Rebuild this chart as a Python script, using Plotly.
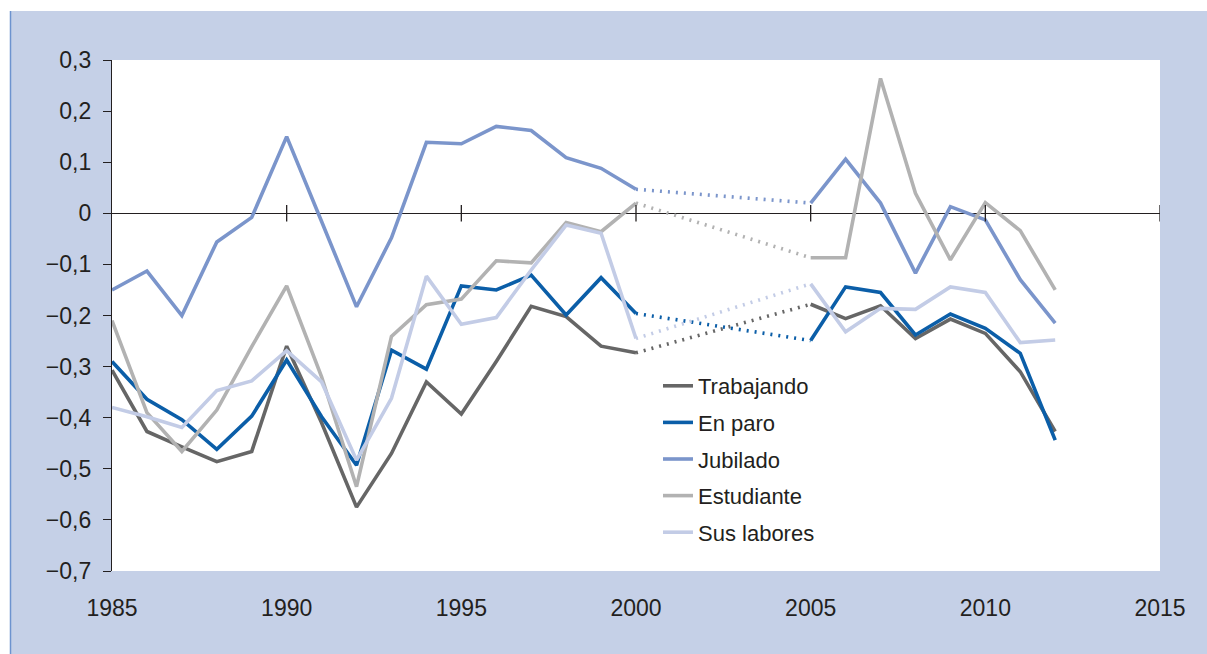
import plotly.graph_objects as go

years_a = list(range(1985, 2001))
years_b = list(range(2005, 2013))

series_names = ["Trabajando", "En paro", "Jubilado", "Estudiante", "Sus labores"]
colors = ["#666666", "#0b5ea8", "#7b95cb", "#b2b2b2", "#c3cce6"]

trabajando_a = [-0.307, -0.427, -0.457, -0.486, -0.466, -0.260, -0.410, -0.575, -0.470, -0.330,
                -0.393, -0.290, -0.182, -0.202, -0.260, -0.273]
trabajando_b = [-0.178, -0.206, -0.181, -0.245, -0.207, -0.235, -0.310, -0.427]

en_paro_a = [-0.290, -0.364, -0.404, -0.462, -0.397, -0.287, -0.398, -0.493, -0.268, -0.305,
             -0.142, -0.150, -0.121, -0.199, -0.126, -0.196]
en_paro_b = [-0.249, -0.144, -0.155, -0.238, -0.197, -0.225, -0.274, -0.444]

jubilado_a = [-0.150, -0.113, -0.200, -0.056, -0.008, 0.150, -0.016, -0.183, -0.048, 0.139,
              0.136, 0.170, 0.162, 0.109, 0.088, 0.047]
jubilado_b = [0.020, 0.106, 0.020, -0.117, 0.013, -0.013, -0.130, -0.215]

estudiante_a = [-0.210, -0.390, -0.466, -0.385, -0.261, -0.142, -0.320, -0.535, -0.241, -0.179,
                -0.168, -0.093, -0.097, -0.018, -0.036, 0.020]
estudiante_b = [-0.087, -0.087, 0.264, 0.039, -0.091, 0.021, -0.034, -0.150]

sus_labores_a = [-0.380, -0.398, -0.419, -0.347, -0.328, -0.269, -0.330, -0.483, -0.362, -0.123,
                 -0.217, -0.204, -0.111, -0.023, -0.039, -0.245]
sus_labores_b = [-0.138, -0.232, -0.186, -0.188, -0.144, -0.155, -0.253, -0.248]

y_tickvals = [0.3, 0.2, 0.1, 0.0, -0.1, -0.2, -0.3, -0.4, -0.5, -0.6, -0.7]
y_ticktext = ["0,3", "0,2", "0,1", "0", "−0,1", "−0,2", "−0,3", "−0,4", "−0,5", "−0,6", "−0,7"]
x_tickvals = [1985, 1990, 1995, 2000, 2005, 2010, 2015]
x_ticktext = ["1985", "1990", "1995", "2000", "2005", "2010", "2015"]

data_a = [trabajando_a, en_paro_a, jubilado_a, estudiante_a, sus_labores_a]
data_b = [trabajando_b, en_paro_b, jubilado_b, estudiante_b, sus_labores_b]

TEXT = "#231f20"
FONT = "Liberation Sans, Arial, sans-serif"
PANEL = "#c5d0e7"

fig = go.Figure()
for name, col, ya, yb in zip(series_names, colors, data_a, data_b):
    fig.add_trace(go.Scatter(x=years_a, y=ya, mode="lines", name=name, legendgroup=name,
                             line=dict(color=col, width=3.6), showlegend=True))
    fig.add_trace(go.Scatter(x=[years_a[-1], years_b[0]], y=[ya[-1], yb[0]], mode="lines",
                             name=name, legendgroup=name, showlegend=False,
                             line=dict(color=col, width=3.6, dash="2px,6px")))
    fig.add_trace(go.Scatter(x=years_b, y=yb, mode="lines", name=name, legendgroup=name,
                             line=dict(color=col, width=3.6), showlegend=False))

W, H = 1207, 654
L, R, T, B = 112, 47, 60, 83
pw, ph = W - L - R, H - T - B

def px2x(p):
    return (p - L) / pw

def px2y(p):
    return (H - B - p) / ph

shapes = [
    # white top strip and left strip outside the coloured panel
    dict(type="rect", xref="paper", yref="paper", x0=px2x(-2), x1=px2x(W + 2), y0=px2y(11), y1=px2y(-2),
         fillcolor="white", line=dict(width=0), layer="below"),
    dict(type="rect", xref="paper", yref="paper", x0=px2x(-2), x1=px2x(10), y0=px2y(H + 2), y1=px2y(-2),
         fillcolor="white", line=dict(width=0), layer="below"),
    dict(type="rect", xref="paper", yref="paper", x0=0, x1=1, y0=0, y1=1,
         fillcolor="white", line=dict(width=0), layer="below"),
    dict(type="line", xref="paper", yref="paper", x0=px2x(10.5), x1=px2x(10.5), y0=px2y(H + 2), y1=px2y(11),
         line=dict(color="#6d93cf", width=1.5), layer="above"),
]
for xv in x_tickvals[1:]:
    shapes.append(dict(type="line", xref="x", yref="y", x0=xv, x1=xv, y0=-0.016, y1=0.016,
                       line=dict(color=TEXT, width=1.3), layer="above"))

fig.update_layout(
    width=W, height=H,
    margin=dict(l=L, r=R, t=T, b=B, pad=0),
    paper_bgcolor=PANEL, plot_bgcolor="white",
    font=dict(family=FONT, color=TEXT, size=22),
    shapes=shapes,
    showlegend=True,
    legend=dict(x=px2x(658), y=px2y(365), xanchor="left", yanchor="top",
                bgcolor="rgba(0,0,0,0)", font=dict(size=22, family=FONT, color=TEXT),
                tracegroupgap=5, itemwidth=30),
    xaxis=dict(range=[1985, 2015], tickvals=x_tickvals, ticktext=x_ticktext,
               showgrid=False, zeroline=False, showline=False, ticks="",
               tickfont=dict(size=23), ticklabelstandoff=21, fixedrange=True),
    yaxis=dict(range=[-0.7, 0.3], tickvals=y_tickvals, ticktext=y_ticktext,
               showgrid=False, zeroline=True, zerolinecolor=TEXT, zerolinewidth=1.3,
               showline=True, linecolor=TEXT, linewidth=1.3,
               ticks="outside", ticklen=8, tickcolor=TEXT, tickwidth=1.3,
               tickfont=dict(size=23), ticklabelstandoff=7, fixedrange=True),
)

fig.write_html(
    "out.html", config={"displayModeBar": False},
    post_script=("document.body.style.margin='0';document.body.style.overflow='hidden';"
                 "document.body.style.background='" + PANEL + "';"
                 "document.documentElement.style.background='" + PANEL + "';"))
